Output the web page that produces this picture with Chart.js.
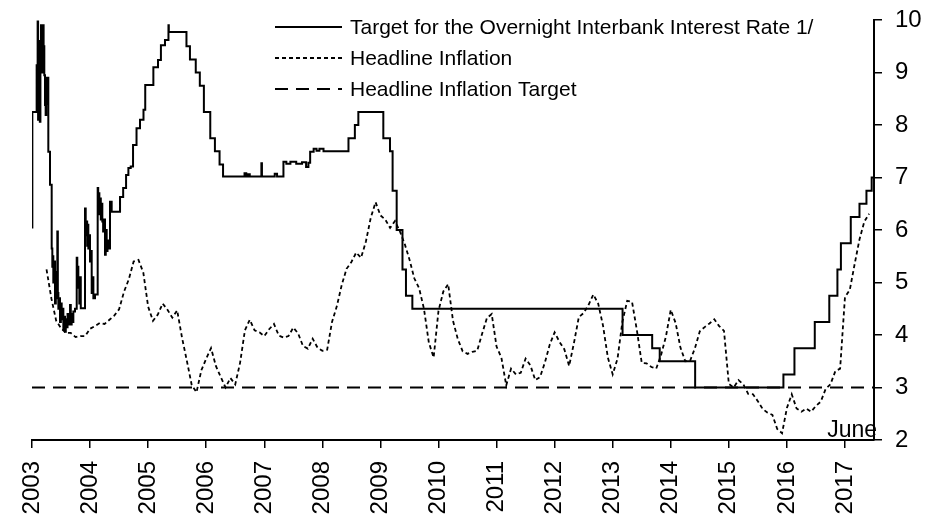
<!DOCTYPE html>
<html>
<head>
<meta charset="utf-8">
<script src="https://cdn.jsdelivr.net/npm/chart.js@4"></script>
<style>
  html, body { margin: 0; padding: 0; background: #fff; }
</style>
</head>
<body>
<canvas id="chart" width="948" height="520"></canvas>
<script>
// ── AXES ──────────────────────────────────────────────
const years  = [2003, 2004, 2005, 2006, 2007, 2008, 2009, 2010, 2011, 2012, 2013, 2014, 2015, 2016, 2017];
const yTicks = [2, 3, 4, 5, 6, 7, 8, 9, 10];

// ── OVERNIGHT RATE (date in years, value holds until next point) ──
const rateDates = [
  2003.000, 2003.006, 2003.080, 2003.090, 2003.097, 2003.105, 2003.112, 2003.121, 2003.135, 2003.145,
  2003.155, 2003.170, 2003.185, 2003.200, 2003.212, 2003.224, 2003.235, 2003.245, 2003.253, 2003.267,
  2003.281, 2003.310, 2003.339, 2003.350, 2003.360, 2003.367, 2003.380, 2003.396, 2003.410, 2003.425,
  2003.436, 2003.445, 2003.454, 2003.468, 2003.482, 2003.497, 2003.511, 2003.525, 2003.540, 2003.555,
  2003.568, 2003.582, 2003.597, 2003.612, 2003.626, 2003.640, 2003.655, 2003.668, 2003.683, 2003.700,
  2003.712, 2003.741, 2003.770, 2003.780, 2003.790, 2003.798, 2003.815, 2003.827, 2003.840, 2003.913,
  2003.925, 2003.935, 2003.950, 2003.960, 2003.970, 2003.985, 2003.999, 2004.015, 2004.028, 2004.045,
  2004.057, 2004.085, 2004.131, 2004.140, 2004.150, 2004.160, 2004.171, 2004.185, 2004.200, 2004.211,
  2004.225, 2004.240, 2004.257, 2004.270, 2004.286, 2004.300, 2004.314, 2004.343, 2004.372, 2004.516,
  2004.570, 2004.620, 2004.660, 2004.700, 2004.740, 2004.800, 2004.860, 2004.920, 2004.950, 2005.090,
  2005.170, 2005.220, 2005.290, 2005.350, 2005.356, 2005.660, 2005.720, 2005.820, 2005.890, 2005.960,
  2006.070, 2006.150, 2006.230, 2006.290, 2006.660, 2006.690, 2006.720, 2006.750, 2006.950, 2006.960,
  2007.180, 2007.220, 2007.330, 2007.380, 2007.450, 2007.550, 2007.650, 2007.720, 2007.760, 2007.790,
  2007.850, 2007.900, 2007.950, 2008.020, 2008.450, 2008.560, 2008.620, 2009.050, 2009.165, 2009.210,
  2009.280, 2009.380, 2009.440, 2009.550, 2013.170, 2013.680, 2013.810, 2014.420, 2015.940, 2016.130,
  2016.480, 2016.730, 2016.870, 2016.930, 2017.100, 2017.250, 2017.370, 2017.460, 2017.490
];
const rateValues = [
  6.05, 8.25, 9.14, 8.30, 9.97, 8.10, 9.60, 8.82, 8.06, 9.40,
  9.90, 9.00, 9.90, 9.50, 8.95, 8.38, 8.19, 8.90, 8.40, 8.90,
  7.49, 6.86, 5.65, 5.30, 5.50, 5.00, 5.40, 4.60, 5.20, 4.70,
  5.97, 4.80, 4.50, 4.70, 4.25, 4.60, 4.30, 4.50, 4.10, 4.35,
  4.06, 4.30, 4.15, 4.40, 4.20, 4.35, 4.57, 4.20, 4.40, 4.25,
  4.45, 4.50, 5.47, 4.90, 5.30, 5.00, 4.60, 5.10, 4.51, 6.41,
  5.90, 6.16, 5.70, 6.10, 5.65, 5.90, 5.40, 5.60, 4.80, 5.10,
  4.70, 4.77, 6.80, 6.40, 6.70, 6.30, 6.60, 6.20, 6.50, 6.16,
  5.97, 6.20, 5.53, 6.00, 5.60, 5.80, 5.65, 6.54, 6.35, 6.63,
  6.80, 7.05, 7.18, 7.21, 7.62, 7.94, 8.10, 8.29, 8.76, 9.10,
  9.24, 9.52, 9.62, 9.90, 9.77, 9.50, 9.25, 9.00, 8.75, 8.25,
  7.75, 7.50, 7.25, 7.02, 7.08, 7.02, 7.06, 7.02, 7.27, 7.02,
  7.07, 7.02, 7.30, 7.26, 7.30, 7.26, 7.29, 7.20, 7.28, 7.49,
  7.55, 7.51, 7.55, 7.50, 7.75, 8.00, 8.25, 7.75, 7.50, 6.75,
  6.00, 5.25, 4.75, 4.50, 4.00, 3.75, 3.50, 3.00, 3.25, 3.75,
  4.25, 4.75, 5.25, 5.75, 6.25, 6.50, 6.75, 7.00, 7.00
];

// ── HEADLINE INFLATION (monthly, from April 2003) ─────
const inflationStart = 2003 + 3 / 12;
const inflationValues = [
                                  5.25, 4.70, 4.27, 4.13, 4.04, 4.04, 3.96, 3.98, 3.98, // 2003
  4.12, 4.17, 4.23, 4.21, 4.29, 4.37, 4.49, 4.82, 5.06, 5.40, 5.43, 5.19, // 2004
  4.54, 4.27, 4.39, 4.60, 4.48, 4.33, 4.47, 3.95, 3.51, 3.05, 2.91, 3.33, // 2005
  3.55, 3.75, 3.41, 3.20, 3.00, 3.18, 3.06, 3.47, 4.09, 4.29, 4.09, 4.05, // 2006
  3.98, 4.11, 4.21, 3.99, 3.95, 3.98, 4.14, 4.03, 3.79, 3.74, 3.93, 3.76, // 2007
  3.70, 3.72, 4.25, 4.55, 4.95, 5.26, 5.39, 5.57, 5.47, 5.78, 6.23, 6.53, // 2008
  6.28, 6.20, 6.04, 6.17, 5.98, 5.74, 5.44, 5.08, 4.89, 4.50, 3.86, 3.57, // 2009
  4.46, 4.83, 4.97, 4.27, 3.92, 3.69, 3.64, 3.68, 3.70, 4.02, 4.32, 4.40, // 2010
  3.78, 3.57, 3.04, 3.36, 3.25, 3.28, 3.55, 3.42, 3.14, 3.20, 3.48, 3.82, // 2011
  4.05, 3.87, 3.73, 3.41, 3.85, 4.34, 4.42, 4.57, 4.77, 4.60, 4.18, 3.57, // 2012
  3.25, 3.55, 4.25, 4.65, 4.63, 4.09, 3.47, 3.46, 3.39, 3.36, 3.62, 3.97, // 2013
  4.48, 4.23, 3.76, 3.50, 3.51, 3.75, 4.07, 4.15, 4.22, 4.30, 4.17, 4.08, // 2014
  3.07, 3.00, 3.14, 3.06, 2.88, 2.87, 2.74, 2.59, 2.52, 2.48, 2.21, 2.13, // 2015
  2.61, 2.87, 2.60, 2.54, 2.60, 2.54, 2.65, 2.73, 2.97, 3.06, 3.31, 3.36, // 2016
  4.72, 4.86, 5.35, 5.82, 6.16, 6.31                                      // 2017
];

// ── INFLATION TARGET ──────────────────────────────────
const targetDates  = [2003, 2017.5];
const targetValues = [3, 3];

const FONT = '"Liberation Sans", Arial, sans-serif';

// ── LEGEND + "June" NOTE ──────────────────────────────
const legendPlugin = {
  id: "lineLegend",
  afterDraw(chart) {
    const ctx = chart.ctx;
    ctx.save();
    ctx.fillStyle = "#000";
    ctx.strokeStyle = "#000";
    ctx.font = "21px " + FONT;
    ctx.textBaseline = "middle";
    chart.data.datasets.forEach((ds, i) => {
      const y = 27 + i * 31;
      ctx.lineWidth = ds.borderWidth;
      ctx.setLineDash(ds.borderDash || []);
      ctx.beginPath();
      ctx.moveTo(275, y);
      ctx.lineTo(342, y);
      ctx.stroke();
      ctx.fillText(ds.label, 350, y + 1);
    });
    ctx.setLineDash([]);
    ctx.font = "23px " + FONT;
    ctx.textAlign = "right";
    ctx.textBaseline = "alphabetic";
    ctx.fillText("June", chart.chartArea.right + 3, chart.chartArea.bottom - 3);
    ctx.restore();
  },
};

new Chart(document.getElementById("chart").getContext("2d"), {
  type: "line",
  data: {
    datasets: [
      {
        label: "Target for the Overnight Interbank Interest Rate 1/",
        data: rateDates.map((x, i) => ({ x, y: rateValues[i] })),
        borderColor: "#000",
        borderWidth: 2,
        stepped: true,
        pointRadius: 0,
      },
      {
        label: "Headline Inflation",
        data: inflationValues.map((v, i) => ({ x: inflationStart + i / 12, y: v })),
        borderColor: "#000",
        borderWidth: 1.8,
        borderDash: [4, 3],
        pointRadius: 0,
        tension: 0,
      },
      {
        label: "Headline Inflation Target",
        data: targetDates.map((x, i) => ({ x, y: targetValues[i] })),
        borderColor: "#000",
        borderWidth: 2,
        borderDash: [13, 8],
        pointRadius: 0,
      },
    ],
  },
  options: {
    responsive: false,
    animation: false,
    devicePixelRatio: 1,
    layout: { padding: { left: 32, top: 20, right: 0, bottom: 0 } },
    plugins: { legend: { display: false }, tooltip: { enabled: false } },
    scales: {
      x: {
        type: "linear",
        min: 2003,
        max: 2017.5,
        afterBuildTicks: s => { s.ticks = years.map(v => ({ value: v })); },
        afterFit: s => { s.height = 80; s.paddingLeft = 0; s.paddingRight = 0; },
        grid: { drawOnChartArea: false, drawTicks: true, tickLength: 8, color: "#000", lineWidth: 1.5 },
        border: { display: true, color: "#000", width: 2 },
        ticks: {
          color: "#000",
          font: { family: FONT, size: 24 },
          minRotation: 90,
          maxRotation: 90,
          padding: 13,
          callback: v => String(v),
        },
      },
      y: {
        position: "right",
        min: 2,
        max: 10,
        afterBuildTicks: s => { s.ticks = yTicks.map(v => ({ value: v })); },
        afterFit: s => { s.width = 74; s.paddingTop = 0; s.paddingBottom = 0; },
        grid: { drawOnChartArea: false, drawTicks: true, tickLength: 8, color: "#000", lineWidth: 1.5 },
        border: { display: true, color: "#000", width: 2 },
        ticks: {
          color: "#000",
          font: { family: FONT, size: 24 },
          padding: 13,
          callback: v => String(v),
        },
      },
    },
  },
  plugins: [legendPlugin],
});
</script>
</body>
</html>
